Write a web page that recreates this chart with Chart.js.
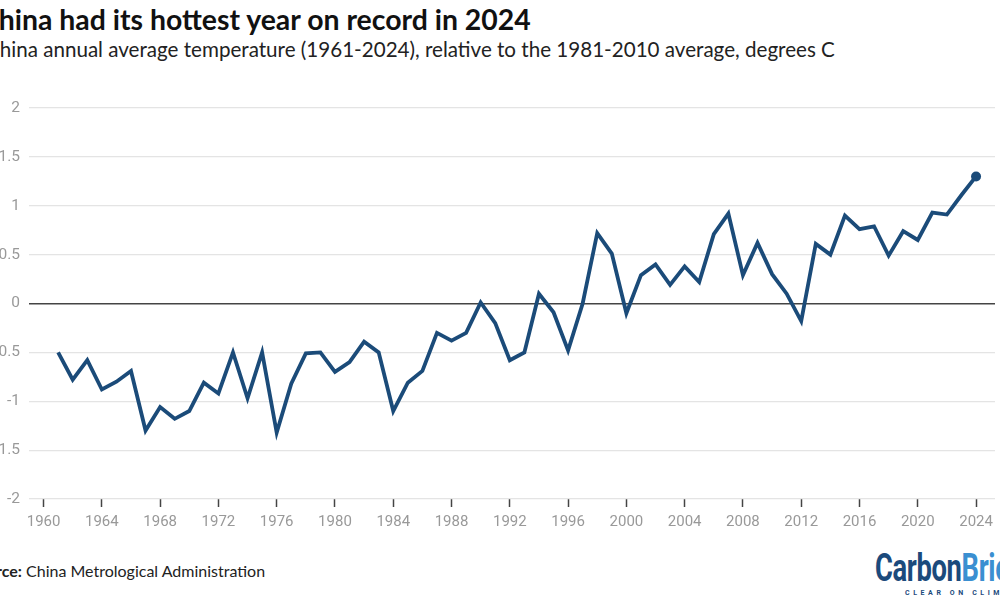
<!DOCTYPE html>
<html>
<head>
<meta charset="utf-8">
<script src="https://cdn.jsdelivr.net/npm/chart.js@4.4.1/dist/chart.umd.min.js"></script>
<style>
  html, body { margin: 0; padding: 0; background: #fff; }
  body { width: 1000px; height: 600px; overflow: hidden; position: relative; font-family: Lato, "Noto Sans", sans-serif; }
  #title { position: absolute; left: -20px; top: 2px; font-size: 28.4px; font-weight: 700; color: #111; white-space: nowrap; }
  #subtitle { position: absolute; left: -14px; top: 37px; font-size: 20.6px; color: #222; white-space: nowrap; }
  #source { position: absolute; left: -31px; top: 561px; font-size: 16px; color: #222; white-space: nowrap; }
  #chartBox { position: absolute; left: -30px; top: 88px; width: 1030px; height: 452px; }
  #logo { position: absolute; left: 875px; top: 548px; white-space: nowrap; }
  #logo .name { font-family: Roboto, sans-serif; font-weight: 700; font-size: 38px; letter-spacing: -0.5px;
                transform: scaleX(0.72); transform-origin: left top; display: block; line-height: 40px; }
  #logo .c1 { color: #1b4a7c; }
  #logo .c2 { color: #3a8fd1; }
  #logo .tag { position: absolute; left: 30px; top: 41px; font-family: Roboto, sans-serif; font-weight: 700;
               font-size: 7px; letter-spacing: 3.6px; color: #1b4a7c; }
</style>
</head>
<body>
<div id="title">China had its hottest year on record in 2024</div>
<div id="subtitle">China annual average temperature (1961-2024), relative to the 1981-2010 average, degrees C</div>
<div id="chartBox"><canvas id="tempChart"></canvas></div>
<div id="source"><b>Source:</b> China Metrological Administration</div>
<div id="logo"><span class="name"><span class="c1">Carbon</span><span class="c2">Brief</span></span><span class="tag">CLEAR ON CLIMATE</span></div>

<script>
// years and anomalies (degrees C vs 1981-2010)
const years = [1961, 1962, 1963, 1964, 1965, 1966, 1967, 1968, 1969, 1970,
               1971, 1972, 1973, 1974, 1975, 1976, 1977, 1978, 1979, 1980,
               1981, 1982, 1983, 1984, 1985, 1986, 1987, 1988, 1989, 1990,
               1991, 1992, 1993, 1994, 1995, 1996, 1997, 1998, 1999, 2000,
               2001, 2002, 2003, 2004, 2005, 2006, 2007, 2008, 2009, 2010,
               2011, 2012, 2013, 2014, 2015, 2016, 2017, 2018, 2019, 2020,
               2021, 2022, 2023, 2024];
const anomaly = [-0.50, -0.78, -0.58, -0.88, -0.80, -0.69, -1.30, -1.06, -1.18, -1.10,
                 -0.81, -0.92, -0.50, -0.97, -0.50, -1.32, -0.82, -0.51, -0.50, -0.70,
                 -0.60, -0.39, -0.50, -1.10, -0.81, -0.69, -0.30, -0.38, -0.30, 0.01,
                 -0.20, -0.58, -0.50, 0.10, -0.09, -0.48, 0.00, 0.72, 0.51, -0.10,
                 0.29, 0.40, 0.19, 0.38, 0.22, 0.71, 0.92, 0.29, 0.62, 0.30,
                 0.10, -0.18, 0.61, 0.50, 0.90, 0.76, 0.79, 0.49, 0.74, 0.65,
                 0.93, 0.91, 1.11, 1.30];
const yTicks = [-2, -1.5, -1, -0.5, 0, 0.5, 1, 1.5, 2];

const lineColor = '#1b4b79';
const points = years.map((yr, i) => ({ x: yr, y: anomaly[i] }));

const ctx = document.getElementById('tempChart').getContext('2d');
const tempChart = new Chart(ctx, {
    type: 'line',
    data: {
        datasets: [{
            data: points,
            borderColor: lineColor,
            backgroundColor: lineColor,
            borderWidth: 3.8,
            borderJoinStyle: 'miter',
            tension: 0,
            pointRadius: c => c.dataIndex === points.length - 1 ? 5 : 0,
            pointBorderWidth: 0,
            pointBackgroundColor: lineColor
        }]
    },
    options: {
        responsive: true,
        maintainAspectRatio: false,
        animation: false,
        layout: { padding: { top: 20, left: 0, right: 0, bottom: 0 } },
        plugins: { legend: { display: false }, tooltip: { enabled: false } },
        scales: {
            x: {
                type: 'linear',
                min: 1959,
                max: 2025.3,
                afterFit: s => { s.height = 41; },
                border: { display: false },
                grid: {
                    drawOnChartArea: false,
                    drawTicks: true,
                    tickLength: 8,
                    tickColor: '#444',
                    tickWidth: 1.5
                },
                ticks: {
                    stepSize: 4,
                    includeBounds: false,
                    autoSkip: false,
                    maxRotation: 0,
                    padding: 6,
                    color: '#999',
                    font: { family: 'Roboto', size: 15 },
                    callback: v => String(v)
                }
            },
            y: {
                min: -2,
                max: 2,
                afterFit: s => { s.width = 59; },
                afterBuildTicks: s => { s.ticks = yTicks.map(v => ({ value: v })); },
                border: { display: false },
                grid: {
                    drawTicks: false,
                    color: c => c.tick && c.tick.value === 0 ? '#444' : '#e4e4e4',
                    lineWidth: c => c.tick && c.tick.value === 0 ? 1.6 : 1.2
                },
                ticks: {
                    padding: 9,
                    color: '#999',
                    font: { family: 'Roboto', size: 15.5 },
                    callback: v => String(v)
                }
            }
        }
    }
});
</script>
</body>
</html>
